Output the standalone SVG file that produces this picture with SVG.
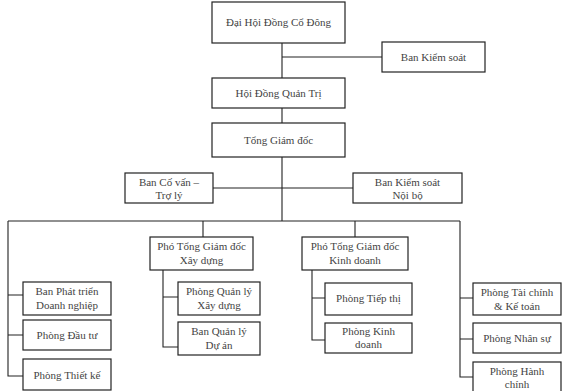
<svg xmlns="http://www.w3.org/2000/svg" width="562" height="391" viewBox="0 0 562 391">
<style>
.b{fill:#fff;stroke:#222;stroke-width:1.2}
.t{font-family:"Liberation Serif","Times New Roman",serif;font-size:11px;fill:#444;text-anchor:middle}
.c{fill:none;stroke:#222;stroke-width:1.1}
</style>
<rect width="562" height="391" fill="#fff"/>
<g id="connectors">
<path class="c" d="M282 43V78M282 57H382M282 108V123M282 157V221M213 188H353M8 221H460M203 221V237M355 221V237"/>
<path class="c" d="M8 221V376H23M8 295H23M8 335H23"/>
<path class="c" d="M163 270V347H178M163 297H178"/>
<path class="c" d="M312 270V340H325M312 298H325"/>
<path class="c" d="M460 221V377H473M460 298H473M460 339H473"/>
</g>
<g id="dhdcd"><rect class="b" x="212" y="2" width="133" height="41"/><text class="t" x="278.5" y="26">Đại Hội Đồng Cổ Đông</text></g>
<g id="bks"><rect class="b" x="382" y="42" width="103" height="30"/><text class="t" x="433.5" y="61">Ban Kiểm soát</text></g>
<g id="hdqt"><rect class="b" x="212" y="78" width="133" height="30"/><text class="t" x="278.5" y="97">Hội Đồng Quản Trị</text></g>
<g id="tgd"><rect class="b" x="212" y="123" width="133" height="34"/><text class="t" x="278.5" y="144">Tổng Giám đốc</text></g>
<g id="bcv"><rect class="b" x="125" y="173" width="88" height="30"/><text class="t" x="169" y="186">Ban Cố vấn –</text><text class="t" x="169" y="199">Trợ lý</text></g>
<g id="bksnb"><rect class="b" x="353" y="173" width="109" height="30"/><text class="t" x="407.5" y="186">Ban Kiểm soát</text><text class="t" x="407.5" y="199">Nội bộ</text></g>
<g id="ptgdxd"><rect class="b" x="150" y="237" width="103" height="33"/><text class="t" x="201.5" y="250">Phó Tổng Giám đốc</text><text class="t" x="201.5" y="264">Xây dựng</text></g>
<g id="ptgdkd"><rect class="b" x="302" y="237" width="106" height="33"/><text class="t" x="355" y="250">Phó Tổng Giám đốc</text><text class="t" x="355" y="264">Kinh doanh</text></g>
<g id="bpt"><rect class="b" x="23" y="282" width="88" height="33"/><text class="t" x="67" y="295">Ban Phát triển</text><text class="t" x="67" y="309">Doanh nghiệp</text></g>
<g id="pdt"><rect class="b" x="23" y="320" width="88" height="30"/><text class="t" x="67" y="339">Phòng Đầu tư</text></g>
<g id="ptk"><rect class="b" x="23" y="359" width="88" height="31"/><text class="t" x="67" y="379">Phòng Thiết kế</text></g>
<g id="pqlxd"><rect class="b" x="178" y="282" width="82" height="33"/><text class="t" x="219" y="295">Phòng Quản lý</text><text class="t" x="219" y="309">Xây dựng</text></g>
<g id="bqlda"><rect class="b" x="178" y="322" width="82" height="33"/><text class="t" x="219" y="335">Ban Quản lý</text><text class="t" x="219" y="349">Dự án</text></g>
<g id="ptt"><rect class="b" x="325" y="283" width="87" height="32"/><text class="t" x="368.5" y="302">Phòng Tiếp thị</text></g>
<g id="pkd"><rect class="b" x="325" y="323" width="87" height="30"/><text class="t" x="368.5" y="335">Phòng Kinh</text><text class="t" x="368.5" y="348">doanh</text></g>
<g id="ptc"><rect class="b" x="473" y="283" width="88" height="32"/><text class="t" x="517" y="296">Phòng Tài chính</text><text class="t" x="517" y="310">&amp; Kế toán</text></g>
<g id="pns"><rect class="b" x="473" y="323" width="88" height="30"/><text class="t" x="517" y="342">Phòng Nhân sự</text></g>
<g id="phc"><rect class="b" x="473" y="362" width="88" height="32"/><text class="t" x="517" y="375">Phòng Hành</text><text class="t" x="517" y="388">chính</text></g>
</svg>
